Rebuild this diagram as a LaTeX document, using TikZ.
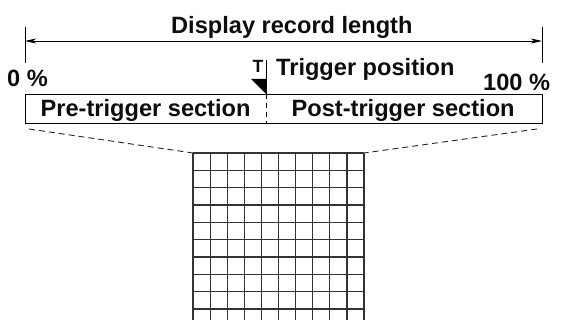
\documentclass[tikz,border=0pt]{standalone}
\usepackage{fontspec}
\setmainfont{Liberation Sans}
\usetikzlibrary{arrows.meta,positioning,calc}

\begin{document}
\begin{tikzpicture}[x=1pt,y=-1pt,
  lbl/.style={font=\fontsize{23.6}{28}\selectfont\bfseries,inner sep=0pt,anchor=base west,text=black!95},
  gridln/.style={line width=1.2pt,black!80},
  zoomln/.style={line width=0.9pt,dash pattern=on 6pt off 4pt,black!85}]
  \useasboundingbox (0,0) rectangle (576,320);
  % display record length
  \coordinate (lt) at (25,27);
  \coordinate (rt) at (542,27);
  \draw[line width=0.9pt] (lt) -- ++(0,36);
  \draw[line width=0.9pt] (rt) -- ++(0,36);
  \draw[line width=0.9pt,{Stealth[length=11pt,width=5pt,inset=3pt]}-{Stealth[length=11pt,width=5pt,inset=3pt]}]
    ($(lt)+(0,14)$) -- ($(rt)+(0,14)$);
  \node[lbl] (len) at (171,34) {Display record length};
  \node[lbl] (pct0) at (7,87) {0 \%};
  \node[lbl] (pct100) at (483,91) {100 \%};
  % record box
  \node[draw,line width=1pt,minimum width=517pt,minimum height=29pt,inner sep=0pt,anchor=north west] (rec) at (25,94) {};
  \coordinate (trig) at (266,94);
  \draw[line width=0.9pt,dash pattern=on 5pt off 4pt] (trig) -- (trig |- rec.south);
  \draw[line width=1pt] (trig) -- ++(0,-34);
  \fill (trig) -- ++(0,-15) -- ++(-15,0) -- cycle;
  \node[lbl,font=\fontsize{17.7}{20}\selectfont\bfseries] (tmark) at (252.5,72.7) {T};
  \node[lbl] (tpos) at (276,76) {Trigger position};
  \node[lbl] (pre) at (40.5,116.5) {Pre-trigger section};
  \node[lbl] (post) at (291.5,116.5) {Post-trigger section};
  % zoomed grid
  \coordinate (gnw) at (193,153);
  \coordinate (gne) at (364,153);
  \foreach \i in {0,...,10}
    \draw[gridln] ($(gnw)+(\i*17.1,0)$) -- ++(0,167);
  \foreach \j in {0,...,9}
    \draw[gridln] ($(gnw)+(0,\j*17.33)$) -- ($(gne)+(0,\j*17.33)$);
  \coordinate (zl) at (29,129);
  \coordinate (zr) at (537,129);
  \draw[zoomln] (zl) -- (gnw);
  \draw[zoomln] (zr) -- (gne);
\end{tikzpicture}
\end{document}
